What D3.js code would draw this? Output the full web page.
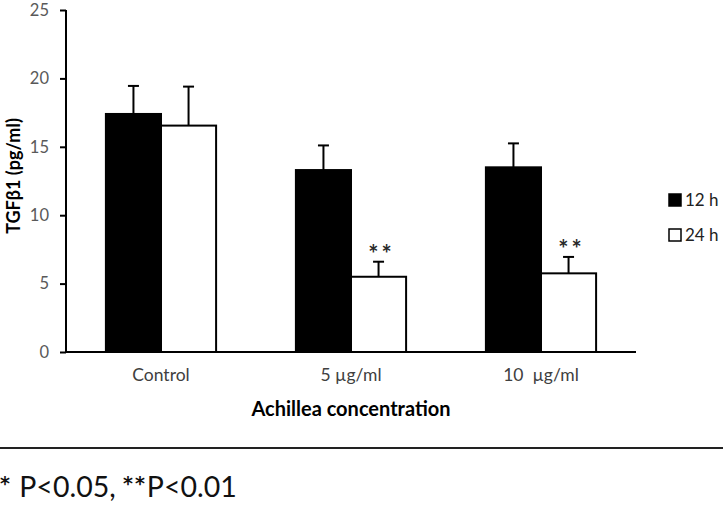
<!DOCTYPE html>
<html>
<head>
<meta charset="utf-8">
<script src="https://cdn.jsdelivr.net/npm/d3@7"></script>
<style>
  html, body { margin: 0; padding: 0; background: #fff; }
  svg { display: block; }
  text { font-family: Lato, "Open Sans", sans-serif; }
</style>
</head>
<body>
<svg id="chart" width="723" height="505"></svg>
<script>
// ---- data ----
const categories = ["Control", "5 µg/ml", "10  µg/ml"];
const seriesNames = ["12 h", "24 h"];
const values12h = [17.4, 13.3, 13.5];
const errors12h = [2.05, 1.8, 1.75];
const values24h = [16.55, 5.5, 5.75];
const errors24h = [2.85, 1.1, 1.2];
const signif24h = ["", "**", "**"];
const yTicks = [0, 5, 10, 15, 20, 25];
const yTitle = "TGFβ1 (pg/ml)";
const xTitle = "Achillea concentration";
const footnote = ["*", " P<0.05, ", "**", "P<0.01"];

(function () {
// ---- layout ----
const svg = d3.select("#chart");
const mL = 66, mR = 636, mT = 10, mB = 352;

const x0 = d3.scaleBand().domain(categories).range([mL, mR])
  .paddingInner(0.42).paddingOuter(0.21);
const x1 = d3.scaleBand().domain(seriesNames).range([0, x0.bandwidth()]).padding(0);
const y = d3.scaleLinear().domain([0, 25]).range([mB, mT]);

const fills = {"12 h": "#000", "24 h": "#fff"};
const rows = categories.map((c, i) => [
  {cat: c, s: "12 h", v: values12h[i], e: errors12h[i], sig: ""},
  {cat: c, s: "24 h", v: values24h[i], e: errors24h[i], sig: signif24h[i]}
]).flat();

// bars
svg.append("g").selectAll("rect").data(rows).join("rect")
  .attr("x", d => x0(d.cat) + x1(d.s))
  .attr("y", d => y(d.v))
  .attr("width", x1.bandwidth())
  .attr("height", d => y(0) - y(d.v))
  .attr("fill", d => fills[d.s])
  .attr("stroke", "#000")
  .attr("stroke-width", 2);

// error bars (upper only)
const eg = svg.append("g").attr("stroke", "#000").attr("stroke-width", 2);
rows.forEach(d => {
  const cx = x0(d.cat) + x1(d.s) + x1.bandwidth() / 2;
  eg.append("line").attr("x1", cx).attr("x2", cx).attr("y1", y(d.v)).attr("y2", y(d.v + d.e));
  eg.append("line").attr("x1", cx - 5.5).attr("x2", cx + 5.5).attr("y1", y(d.v + d.e)).attr("y2", y(d.v + d.e));
});

// significance stars
svg.append("g").selectAll("text").data(rows.filter(d => d.sig)).join("text")
  .attr("x", d => x0(d.cat) + x1(d.s) + x1.bandwidth() / 2 + 3)
  .attr("y", d => y(d.v + d.e) + 1)
  .attr("text-anchor", "middle")
  .attr("font-family", "'DejaVu Sans', sans-serif")
  .attr("font-size", 24)
  .attr("font-weight", "bold")
  .attr("letter-spacing", 3)
  .attr("fill", "#2a2a2a")
  .text(d => d.sig);

// y axis
const yAxis = svg.append("g").attr("transform", `translate(${mL},0)`)
  .call(d3.axisLeft(y).tickValues(yTicks).tickSize(6).tickPadding(11).tickFormat(d3.format("d")));
yAxis.select(".domain").attr("stroke", "#000").attr("stroke-width", 2)
  .attr("d", `M0,${mT}V${mB}`);
yAxis.selectAll(".tick line").attr("stroke", "#000").attr("stroke-width", 2);
yAxis.selectAll(".tick text").attr("font-size", 16.5).attr("fill", "#595959")
  .attr("font-family", "Lato, sans-serif");

// x axis baseline
svg.append("line").attr("x1", mL).attr("x2", mR).attr("y1", mB).attr("y2", mB)
  .attr("stroke", "#000").attr("stroke-width", 2);

// category labels
svg.append("g").selectAll("text").data(categories).join("text")
  .attr("x", d => x0(d) + x0.bandwidth() / 2)
  .attr("y", 381)
  .attr("text-anchor", "middle")
  .attr("font-size", 17.5)
  .attr("fill", "#404040")
  .style("white-space", "pre")
  .text(d => d);

// x title
svg.append("text").attr("x", (mL + mR) / 2).attr("y", 416)
  .attr("text-anchor", "middle").attr("font-size", 20).attr("font-weight", "bold")
  .attr("fill", "#000").text(xTitle);

// y title
svg.append("text").attr("transform", "translate(20,176) rotate(-90)")
  .attr("text-anchor", "middle").attr("font-size", 18).attr("font-weight", "bold")
  .attr("fill", "#000").text(yTitle);

// legend
const lg = svg.append("g");
seriesNames.forEach((s, i) => {
  const ly = 194 + i * 35;
  lg.append("rect").attr("x", 669).attr("y", ly).attr("width", 12).attr("height", 12)
    .attr("fill", fills[s]).attr("stroke", "#000").attr("stroke-width", 1.5);
  lg.append("text").attr("x", 685).attr("y", ly + 12).attr("font-size", 17)
    .attr("fill", "#222").text(s);
});

// separator line
svg.append("line").attr("x1", 0).attr("x2", 723).attr("y1", 448).attr("y2", 448)
  .attr("stroke", "#222").attr("stroke-width", 2);

// footnote
const ft = svg.append("text").attr("x", 0).attr("y", 497).attr("font-size", 28.5).attr("fill", "#111");
footnote.forEach((t) => {
  const isStar = /^\*+$/.test(t);
  ft.append("tspan")
    .attr("font-family", isStar ? "'DejaVu Sans', sans-serif" : null)
    .attr("font-size", isStar ? 19 : 28.5)
    .attr("font-weight", isStar ? "bold" : "normal")
    .attr("letter-spacing", isStar ? 2 : 0)
    .attr("dy", isStar ? -7 : 7)
    .style("white-space", "pre")
    .text(t);
});
})();
</script>
</body>
</html>
